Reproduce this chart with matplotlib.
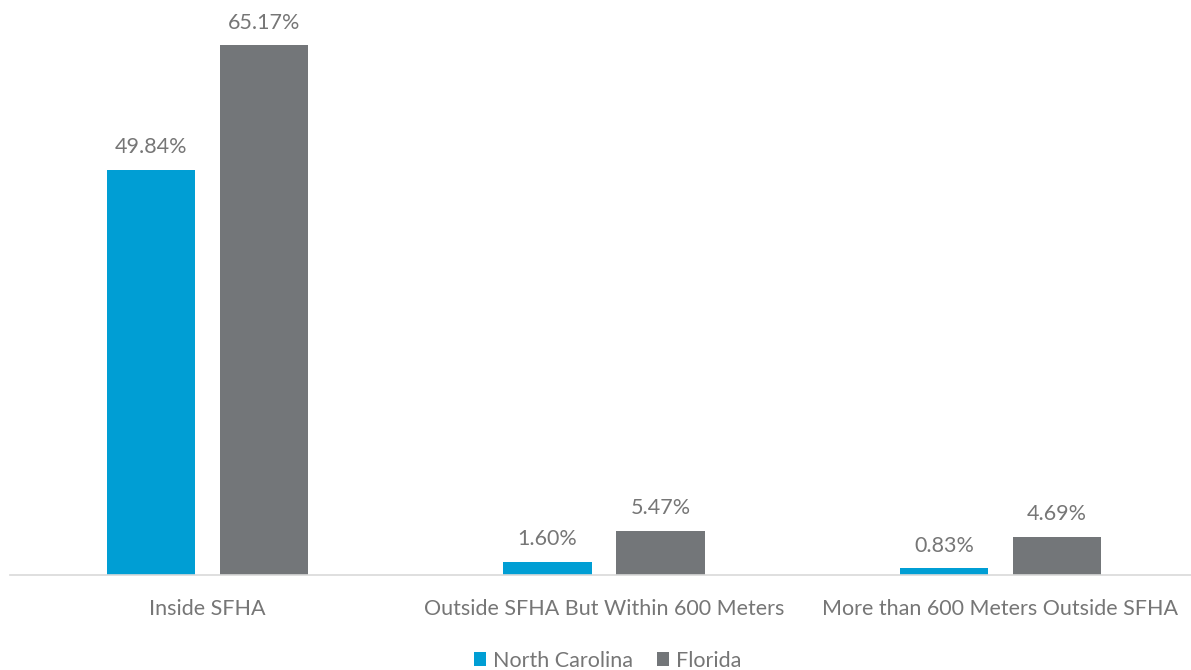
import numpy as np
import matplotlib.pyplot as plt

plt.rcParams['font.family'] = ['Lato', 'DejaVu Sans']

categories = ['Inside SFHA', 'Outside SFHA But Within 600 Meters',
              'More than 600 Meters Outside SFHA']
north_carolina = [49.84, 1.60, 0.83]
florida = [65.17, 5.47, 4.69]

blue = '#009ED4'
grey = '#737679'
txt = '#767676'

fig = plt.figure(figsize=(11.91, 6.7), dpi=100)
ax = fig.add_axes([9.25/1191, 95/670, 1189.5/1191, 569/670])

x = np.arange(len(categories))
w = 0.222
off = 0.1425
b1 = ax.bar(x - off, north_carolina, w, color=blue, label='North Carolina')
b2 = ax.bar(x + off, florida, w, color=grey, label='Florida')

fs = 15.5
for bars, vals in ((b1, north_carolina), (b2, florida)):
    for r, v in zip(bars, vals):
        ax.annotate('%.2f%%' % v, (r.get_x() + r.get_width() / 2, v),
                    xytext=(0, 9), textcoords='offset points',
                    ha='center', va='bottom', fontsize=fs, color=txt)

ax.set_xlim(-0.5, 2.5)
ax.set_ylim(0, 70)
ax.set_xticks(x)
ax.set_xticklabels(categories, fontsize=fs, color=txt)
ax.tick_params(axis='x', length=0, pad=17)
ax.set_yticks([])
for s in ('top', 'right', 'left'):
    ax.spines[s].set_visible(False)
ax.spines['bottom'].set_color('#d9d9d9')
ax.spines['bottom'].set_linewidth(1.2)
ax.spines['bottom'].set_bounds(-0.5 + 0.0017, 2.5)

leg = fig.legend(loc='lower center', bbox_to_anchor=(0.51, -0.03), ncol=2,
                 frameon=False, fontsize=fs, handlelength=0.6,
                 handleheight=0.6, handletextpad=0.3, columnspacing=1.1)
for t in leg.get_texts():
    t.set_color(txt)

fig.savefig('out.png', dpi=100)
